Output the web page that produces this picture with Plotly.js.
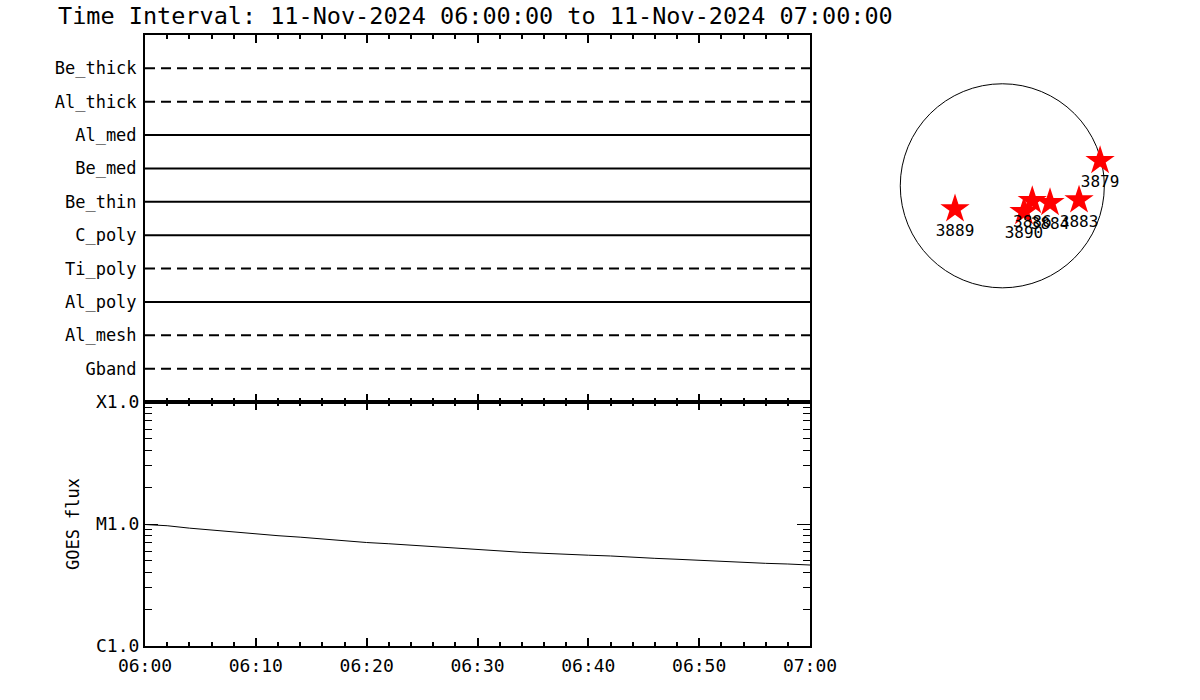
<!DOCTYPE html>
<html>
<head>
<meta charset="utf-8">
<script src="https://cdn.plot.ly/plotly-3.0.1.min.js"></script>
<style>html,body{margin:0;padding:0;background:#fff;}#chart{width:1200px;height:700px;}</style>
</head>
<body>
<div id="chart"></div>
<script>
// ---- Data ----
const titleText = "Time Interval: 11-Nov-2024 06:00:00 to 11-Nov-2024 07:00:00";
const timeStart = "2024-11-11 06:00:00";
const timeEnd = "2024-11-11 07:00:00";

// Filter channels, top to bottom
const channels = ["Be_thick", "Al_thick", "Al_med", "Be_med", "Be_thin", "C_poly", "Ti_poly", "Al_poly", "Al_mesh", "Gband"];
const channelDashed = [true, true, false, false, false, false, true, false, true, true];

// GOES flux (W/m^2), 2-minute samples
const goesTimes = [
  "2024-11-11 06:00:00","2024-11-11 06:02:00","2024-11-11 06:04:00","2024-11-11 06:06:00",
  "2024-11-11 06:08:00","2024-11-11 06:10:00","2024-11-11 06:12:00","2024-11-11 06:14:00",
  "2024-11-11 06:16:00","2024-11-11 06:18:00","2024-11-11 06:20:00","2024-11-11 06:22:00",
  "2024-11-11 06:24:00","2024-11-11 06:26:00","2024-11-11 06:28:00","2024-11-11 06:30:00",
  "2024-11-11 06:32:00","2024-11-11 06:34:00","2024-11-11 06:36:00","2024-11-11 06:38:00",
  "2024-11-11 06:40:00","2024-11-11 06:42:00","2024-11-11 06:44:00","2024-11-11 06:46:00",
  "2024-11-11 06:48:00","2024-11-11 06:50:00","2024-11-11 06:52:00","2024-11-11 06:54:00",
  "2024-11-11 06:56:00","2024-11-11 06:58:00","2024-11-11 07:00:00"
];
const goesFlux = [
  9.90e-6, 9.68e-6, 9.25e-6, 8.90e-6, 8.58e-6, 8.28e-6, 8.02e-6, 7.80e-6,
  7.53e-6, 7.26e-6, 7.05e-6, 6.89e-6, 6.70e-6, 6.50e-6, 6.36e-6, 6.21e-6,
  5.99e-6, 5.86e-6, 5.75e-6, 5.62e-6, 5.55e-6, 5.47e-6, 5.33e-6, 5.23e-6,
  5.14e-6, 5.04e-6, 4.91e-6, 4.82e-6, 4.76e-6, 4.70e-6, 4.61e-6
];
const goesTickVals = [1e-6, 1e-5, 1e-4];
const goesTickText = ["C1.0", "M1.0", "X1.0"];
const goesMinorVals = [2e-6,3e-6,4e-6,5e-6,6e-6,7e-6,8e-6,9e-6,2e-5,3e-5,4e-5,5e-5,6e-5,7e-5,8e-5,9e-5];

// Active regions (heliocentric arcsec)
const arNames = ["3879", "3883", "3884", "3886", "3890", "3889"];
const arX = [920, 722, 449, 282, 204, -445];
const arY = [236, -134, -159, -140, -244, -218];
const solarRadius = 960;

// ---- Traces ----
const FONT = "DejaVu Sans Mono, Liberation Mono, monospace";
const traces = [];
const catOrder = channels.slice().reverse();
channels.forEach((name, i) => {
  traces.push({
    type: "scatter", mode: "lines",
    x: [timeStart, timeEnd], y: [name, name],
    xaxis: "x", yaxis: "y",
    line: {color: "black", width: 2, dash: channelDashed[i] ? "10px,6px" : "solid"},
    hoverinfo: "skip", showlegend: false
  });
});
traces.push({
  type: "scatter", mode: "lines",
  x: goesTimes, y: goesFlux,
  xaxis: "x2", yaxis: "y2",
  line: {color: "black", width: 1},
  showlegend: false
});
traces.push({
  type: "scatter", mode: "markers+text",
  x: arX, y: arY, text: arNames,
  textposition: "bottom center",
  textfont: {family: FONT, size: 16, color: "black"},
  marker: {symbol: "star", size: 22, color: "red", line: {width: 0}},
  xaxis: "x3", yaxis: "y3", showlegend: false, cliponaxis: false
});

const xDom = [145/1200, 810/1200];
const topDom = [1 - 402/700, 1 - 35/700];
const botDom = [1 - 646/700, 1 - 402/700];
const tickFont = {family: FONT, size: 18, color: "black"};

const layout = {
  width: 1200, height: 700,
  margin: {l: 0, r: 0, t: 0, b: 0},
  paper_bgcolor: "white", plot_bgcolor: "white",
  showlegend: false,
  title: {
    text: titleText, x: 58/1200, xanchor: "left", xref: "paper",
    y: 1 - 16/700, yanchor: "middle", yref: "paper",
    font: {family: FONT, size: 23.5, color: "black"}
  },
  xaxis: {
    domain: xDom, anchor: "y", type: "date",
    range: [timeStart, timeEnd],
    showticklabels: false, showgrid: false, zeroline: false,
    showline: true, linecolor: "black", linewidth: 2, mirror: "ticks",
    ticks: "inside", ticklen: 8, tickwidth: 2, tickcolor: "black",
    dtick: 600000, tick0: timeStart,
    minor: {ticks: "inside", ticklen: 4, tickwidth: 2, tickcolor: "black", dtick: 120000, showgrid: false}
  },
  yaxis: {
    domain: topDom, anchor: "x", type: "category",
    categoryorder: "array", categoryarray: catOrder,
    range: [-1, 10],
    showgrid: false, zeroline: false,
    showline: true, linecolor: "black", linewidth: 2, mirror: true,
    ticks: "", ticklabelstandoff: 3,
    tickfont: {family: FONT, size: 17, color: "black"}
  },
  xaxis2: {
    domain: xDom, anchor: "y2", type: "date",
    range: [timeStart, timeEnd],
    showgrid: false, zeroline: false,
    showline: true, linecolor: "black", linewidth: 2, mirror: "ticks",
    ticks: "inside", ticklen: 8, tickwidth: 2, tickcolor: "black",
    dtick: 600000, tick0: timeStart, tickformat: "%H:%M",
    tickfont: tickFont, ticklabelstandoff: 2,
    minor: {ticks: "inside", ticklen: 4, tickwidth: 2, tickcolor: "black", dtick: 120000, showgrid: false}
  },
  yaxis2: {
    domain: botDom, anchor: "x2", type: "log",
    range: [-6, -4],
    showgrid: false, zeroline: false,
    showline: true, linecolor: "black", linewidth: 2, mirror: "ticks",
    tickmode: "array", tickvals: goesTickVals, ticktext: goesTickText,
    ticks: "inside", ticklen: 13, tickwidth: 1, tickcolor: "black",
    tickfont: tickFont,
    minor: {tickmode: "array", tickvals: goesMinorVals, ticks: "inside", ticklen: 7, tickwidth: 1, tickcolor: "black", showgrid: false},
    title: {text: "GOES flux", font: {family: FONT, size: 17, color: "black"}, standoff: 12}
  },
  xaxis3: {
    domain: [892.3/1200, 1112.3/1200], anchor: "y3",
    range: [-1035, 1035], visible: false
  },
  yaxis3: {
    domain: [1 - 295.8/700, 1 - 75.8/700], anchor: "x3",
    range: [-1035, 1035], visible: false
  },
  shapes: [{
    type: "circle", xref: "x3", yref: "y3",
    x0: -solarRadius, x1: solarRadius, y0: -solarRadius, y1: solarRadius,
    line: {color: "black", width: 1}, layer: "below"
  }]
};

Plotly.newPlot("chart", traces, layout, {staticPlot: true, displayModeBar: false});
</script>
</body>
</html>
